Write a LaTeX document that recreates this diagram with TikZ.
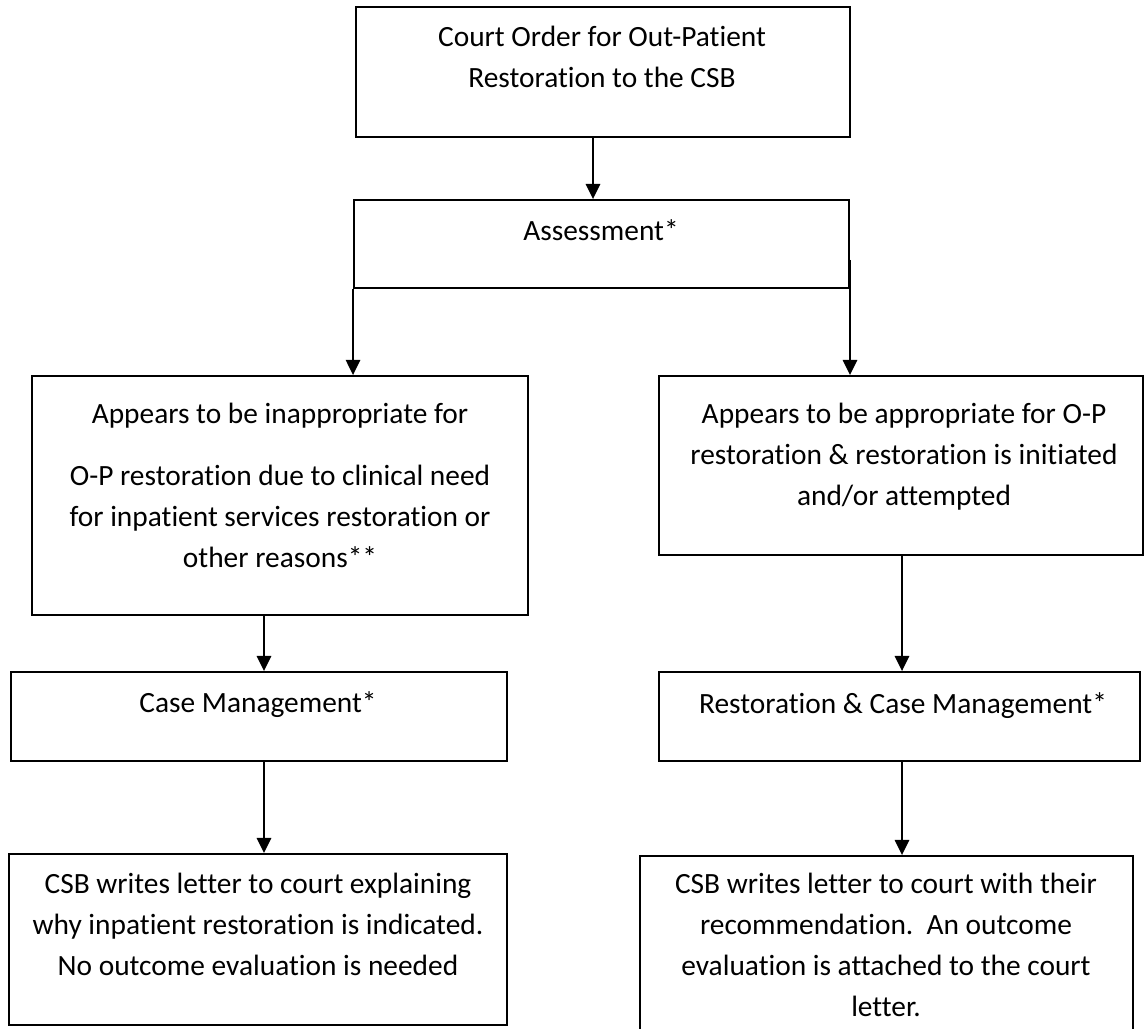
\documentclass[tikz,border=0pt]{standalone}
\usepackage{fontspec}
\setmainfont[Ligatures={NoCommon}]{Carlito}
\usetikzlibrary{arrows.meta, positioning}
\tikzstyle{flowbox} = [rectangle,
draw=black,
line width=1.3pt,
inner sep=0pt]
\tikzstyle{boxtext} = [anchor=north,
align=center,
inner sep=0pt,
font=\fontsize{20.9}{29.2}\selectfont]

\begin{document}
\begin{tikzpicture}[x=0.025cm, y=-0.025cm, line width=1.3pt,
    >={Triangle[width=0.36cm,length=0.38cm]}
    ]
    \clip (0,0) rectangle (1145,1029);

    % boxes
    \node (order) [flowbox, minimum width=12.35cm, minimum height=3.25cm] at (603,72) {};
    \node (assess) [flowbox, minimum width=12.375cm, minimum height=2.2cm] at (601.5,244) {};
    \node (inappr) [flowbox, minimum width=12.4cm, minimum height=5.975cm] at (280,495.5) {};
    \node (appr) [flowbox, minimum width=12.1cm, minimum height=4.475cm] at (901,465.5) {};
    \node (casemgmt) [flowbox, minimum width=12.4cm, minimum height=2.225cm] at (259,716.5) {};
    \node (restmgmt) [flowbox, minimum width=12.025cm, minimum height=2.225cm] at (899.5,716.5) {};
    \node (letterl) [flowbox, minimum width=12.45cm, minimum height=4.275cm] at (258,939.5) {};
    \node (letterr) [flowbox, minimum width=12.325cm, minimum height=4.6cm] at (886.5,948) {};

    % texts
    \node (ordertxt) [boxtext] at (602,25) {Court Order for Out-Patient\\Restoration to the CSB};
    \node (assesstxt) [boxtext] at (601,219) {Assessment*};
    \node (inapprtxt) [boxtext] at (280,402) {Appears to be inappropriate for\\[0.525cm]
        O-P restoration due to clinical need\\for inpatient services restoration or\\other reasons**};
    \node (apprtxt) [boxtext] at (904,402) {Appears to be appropriate for O-P\\restoration \& restoration is initiated\\and/or attempted};
    \node (casemgmttxt) [boxtext] at (258,691) {Case Management*};
    \node (restmgmttxt) [boxtext] at (903,692) {Restoration \& Case Management*};
    \node (letterltxt) [boxtext] at (258,872) {CSB writes letter to court explaining\\why inpatient restoration is indicated.\\No outcome evaluation is needed};
    \node (letterrtxt) [boxtext] at (886,872) {CSB writes letter to court with their\\recommendation.\ \ An outcome\\evaluation is attached to the court\\letter.};

    % arrows
    \coordinate (ordx) at (593,0);
    \coordinate (lcol) at (264,0);
    \coordinate (rcol) at (902,0);
    \coordinate (rsplit) at (850,260);

    \draw[->] (ordx |- order.south) -- (ordx |- assess.north);
    \draw[->] (assess.south west) -- (assess.south west |- inappr.north);
    \draw[->] (rsplit) -- (rsplit |- appr.north);

    \draw[->] (lcol |- inappr.south) -- (lcol |- casemgmt.north);
    \draw[->] (lcol |- casemgmt.south) -- (lcol |- letterl.north);

    \draw[->] (rcol |- appr.south) -- (rcol |- restmgmt.north);
    \draw[->] (rcol |- restmgmt.south) -- (rcol |- letterr.north);

\end{tikzpicture}
\end{document}
